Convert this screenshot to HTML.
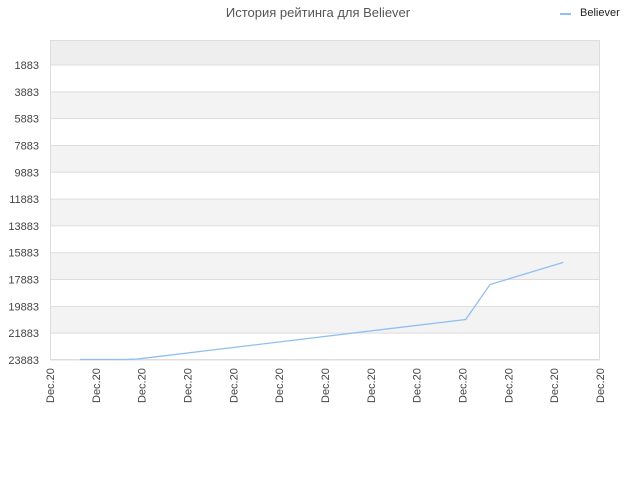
<!DOCTYPE html>
<html><head><meta charset="utf-8"><style>
body{margin:0;background:#fff;}
svg{display:block;font-family:"Liberation Sans","DejaVu Sans",sans-serif;}
</style></head><body>
<svg id="chart" width="640" height="480">
<text x="318" y="17" text-anchor="middle" font-size="13" fill="#555">История рейтинга для Believer</text>
<g>
<line x1="560" y1="14" x2="571" y2="14" stroke="#90c0f0" stroke-width="2"/>
<text x="580" y="16" font-size="11" fill="#222">Believer</text>
</g>
<g id="grid"></g>
<g id="yticks"></g>
<g id="xticks"></g>
<polyline id="line" fill="none" stroke="#90c0f0" stroke-width="1.3"/>
</svg>
<script>
const yTicks=[1883,3883,5883,7883,9883,11883,13883,15883,17883,19883,21883,23883];
const xLabels=["Dec.20","Dec.20","Dec.20","Dec.20","Dec.20","Dec.20","Dec.20","Dec.20","Dec.20","Dec.20","Dec.20","Dec.20","Dec.20"];
const xVals=[0.65,1.65,1.9,9.07,9.6,11.2];
const rankVals=[23883,23883,23850,20900,18290,16640];
const L=50,R=600,T=40,B=360;
const ns="http://www.w3.org/2000/svg";
function ys(v){return 65+(v-1883)*(360-65)/(23883-1883);}
function xs(i){return L+i*(R-L)/12;}
const grid=document.getElementById('grid');
function mk(t,a,p){const e=document.createElementNS(ns,t);for(const k in a)e.setAttribute(k,a[k]);p.appendChild(e);return e;}
// bands
const edges=[T].concat(yTicks.map(ys));
for(let i=0;i<edges.length-1;i++){
 const fill=i===0?"#eeeeee":(i%2===0?"#f3f3f3":"#ffffff");
 const r=mk('rect',{x:L,y:edges[i],width:R-L,height:edges[i+1]-edges[i],fill:fill},grid);
 
 
}
yTicks.forEach(v=>{
 mk('line',{x1:L,x2:R,y1:ys(v),y2:ys(v),stroke:"#dddddd"},grid);
 const t=mk('text',{x:L-11,y:ys(v)+4,'text-anchor':'end','font-size':11,fill:'#444'},document.getElementById('yticks'));
 
 
 t.textContent=v;
});
mk('rect',{x:L+0.5,y:T+0.5,width:R-L-1,height:B-T-1,fill:'none',stroke:'#dddddd'},grid);
xLabels.forEach((s,i)=>{
 const x=xs(i)+4,y=B+43;
 const t=mk('text',{x:x,y:y,'text-anchor':'start','font-size':11,fill:'#444',transform:`rotate(-90 ${x} ${y})`},document.getElementById('xticks'));
 
 
 t.textContent=s;
});
document.getElementById('line').setAttribute('points',xVals.map((x,i)=>xs(x)+','+(ys(rankVals[i])-0.5)).join(' '));
</script>
</body></html>
